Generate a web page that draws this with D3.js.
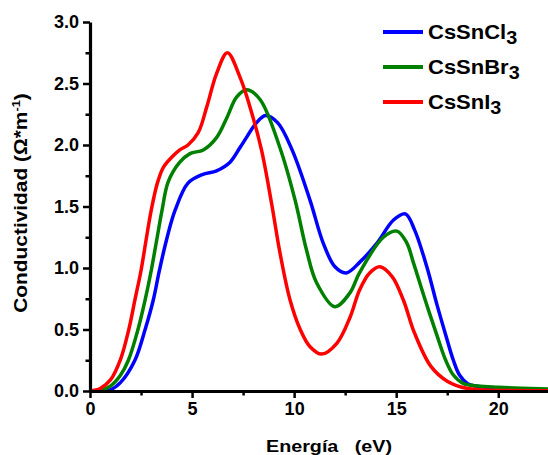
<!DOCTYPE html>
<html>
<head>
<meta charset="utf-8">
<script src="https://cdn.jsdelivr.net/npm/d3@7"></script>
<style>
  body { margin: 0; background: #fff; }
  text { font-family: "Liberation Sans", Arial, sans-serif; font-weight: bold; }
</style>
</head>
<body>
<div class="chart"></div>
<script>
  // values: energy (eV) and conductivity for each compound
  var energyCl = [0, 0.5, 1.0, 1.5, 2.2, 2.7, 3.1, 3.4, 3.75, 4.17, 4.8, 5.5, 6.2, 6.86, 7.35, 7.7, 8.1, 8.6, 9.2, 9.9, 10.78, 11.43, 12.0, 12.55, 13.23, 14.05, 14.87, 15.45, 15.9, 16.5, 17.0, 17.4, 17.8, 18.1, 18.5, 18.9, 20, 22.5]
  var sigmaCl  = [0, 0.002, 0.01, 0.07, 0.25, 0.5, 0.74, 0.98, 1.23, 1.47, 1.69, 1.76, 1.79, 1.86, 1.98, 2.07, 2.17, 2.24, 2.18, 1.96, 1.55, 1.2, 1.01, 0.96, 1.05, 1.2, 1.39, 1.44, 1.31, 1.01, 0.7, 0.47, 0.25, 0.13, 0.06, 0.04, 0.02, 0.01]

  var energyBr = [0, 0.5, 1.0, 1.5, 1.88, 2.35, 2.7, 3.0, 3.27, 3.53, 3.83, 4.4, 4.9, 5.55, 6.2, 6.7, 7.18, 7.68, 8.33, 9.3, 10.05, 10.6, 11.1, 12.0, 12.74, 13.2, 14.37, 15.03, 15.5, 15.85, 16.4, 17.0, 17.4, 17.8, 18.3, 19.0, 20, 22.5]
  var sigmaBr  = [0, 0.005, 0.04, 0.13, 0.25, 0.5, 0.74, 0.98, 1.23, 1.47, 1.7, 1.86, 1.93, 1.96, 2.06, 2.22, 2.39, 2.45, 2.37, 1.98, 1.55, 1.15, 0.88, 0.685, 0.8, 0.96, 1.25, 1.3, 1.21, 1.04, 0.75, 0.45, 0.26, 0.13, 0.06, 0.04, 0.03, 0.015]

  var energyI = [0, 0.5, 1.0, 1.5, 1.9, 2.2, 2.5, 2.75, 3.0, 3.3, 3.6, 4.0, 4.4, 4.8, 5.3, 5.72, 6.2, 6.73, 7.35, 7.8, 8.4, 8.9, 9.31, 9.8, 10.3, 10.78, 11.35, 12.1, 12.74, 13.2, 13.7, 14.2, 14.8, 15.35, 15.9, 16.7, 17.5, 18.5, 20, 22.5]
  var sigmaI  = [0, 0.02, 0.09, 0.26, 0.5, 0.74, 0.98, 1.23, 1.47, 1.69, 1.82, 1.9, 1.96, 2.0, 2.1, 2.31, 2.58, 2.75, 2.55, 2.33, 1.96, 1.52, 1.12, 0.74, 0.5, 0.36, 0.3, 0.39, 0.6, 0.82, 0.96, 1.01, 0.93, 0.74, 0.47, 0.2, 0.08, 0.02, 0.005, 0.003]

  var seriesNames = ['CsSnCl', 'CsSnBr', 'CsSnI']
  var seriesColors = ['#0000ff', '#008000', '#ff0000']

  var xTicks = [0, 5, 10, 15, 20]
  var yTicks = [0, 0.5, 1.0, 1.5, 2.0, 2.5, 3.0]

  var width = 548
  var height = 455

  var svg = d3.select('.chart')
    .append('svg')
    .attr('width', width)
    .attr('height', height)

  var x = d3.scaleLinear().domain([0, 22.5]).range([90, 549.3])
  var y = d3.scaleLinear().domain([0, 3]).range([391, 22])

  // bundle the arrays into point lists for d3.line
  var series = [
    d3.zip(energyCl, sigmaCl),
    d3.zip(energyBr, sigmaBr),
    d3.zip(energyI, sigmaI)
  ]

  var line = d3.line()
    .x(function(d){ return x(d[0]) })
    .y(function(d){ return y(d[1]) })
    .curve(d3.curveCatmullRom.alpha(0.5))

  svg.append('clipPath').attr('id', 'clip')
    .append('rect').attr('x', 90).attr('y', 0).attr('width', 460).attr('height', 392)

  svg.selectAll('.curve')
    .data(series)
    .enter()
    .append('path')
    .attr('class', 'curve')
    .attr('clip-path', 'url(#clip)')
    .attr('fill', 'none')
    .attr('stroke', function(d, i){ return seriesColors[i] })
    .attr('stroke-width', 3.5)
    .attr('d', line)

  // x axis, major and minor ticks
  var xAxis = svg.append('g')
    .attr('transform', 'translate(0,' + y(0) + ')')
    .call(d3.axisBottom(x).tickValues(xTicks).tickSize(7).tickPadding(4).tickSizeOuter(0))
  xAxis.append('g')
    .call(d3.axisBottom(x).tickValues([2.5, 7.5, 12.5, 17.5, 22.5]).tickSize(4.5).tickFormat('').tickSizeOuter(0))
    .select('.domain').remove()

  // y axis
  var yAxis = svg.append('g')
    .attr('transform', 'translate(' + x(0) + ',0)')
    .call(d3.axisLeft(y).tickValues(yTicks).tickFormat(d3.format('.1f')).tickSize(7).tickPadding(4).tickSizeOuter(0))
  yAxis.append('g')
    .call(d3.axisLeft(y).tickValues([0.25, 0.75, 1.25, 1.75, 2.25, 2.75]).tickSize(4.5).tickFormat('').tickSizeOuter(0))
    .select('.domain').remove()

  svg.selectAll('.domain').attr('stroke', '#000').attr('stroke-width', 3.2)
  svg.selectAll('.tick line').attr('stroke', '#000').attr('stroke-width', 2.5)
  svg.selectAll('.tick text')
    .attr('fill', '#000')
    .style('font-size', '18px')
    .style('font-family', '"Liberation Sans", Arial, sans-serif')
    .style('font-weight', 'bold')

  // axis titles (the original lettering is a bit stretched sideways)
  svg.append('text')
    .attr('transform', 'translate(329,452) scale(1.16,1)')
    .attr('text-anchor', 'middle')
    .style('font-size', '17px')
    .style('white-space', 'pre')
    .text('Energía   (eV)')

  var yTitle = svg.append('text')
    .attr('transform', 'translate(27,203) rotate(-90) scale(1.16,1)')
    .attr('text-anchor', 'middle')
    .style('font-size', '18px')
  yTitle.append('tspan').text('Conductividad (Ω*m')
  yTitle.append('tspan').attr('dy', -7).style('font-size', '11px').text('-1')
  yTitle.append('tspan').attr('dy', 7).text(')')

  // legend
  var legend = svg.selectAll('.legend')
    .data(seriesNames)
    .enter()
    .append('g')
    .attr('class', 'legend')
    .attr('transform', function(d, i){ return 'translate(383,' + (32 + i * 35) + ')' })

  legend.append('line')
    .attr('x1', 0).attr('x2', 40)
    .attr('stroke', function(d, i){ return seriesColors[i] })
    .attr('stroke-width', 4)

  var legendText = legend.append('text')
    .attr('transform', 'translate(45,7) scale(1.1,1)')
    .style('font-size', '20px')
  legendText.append('tspan').text(function(d){ return d })
  legendText.append('tspan').attr('dy', 5).style('font-size', '18px').text('3')
</script>
</body>
</html>
